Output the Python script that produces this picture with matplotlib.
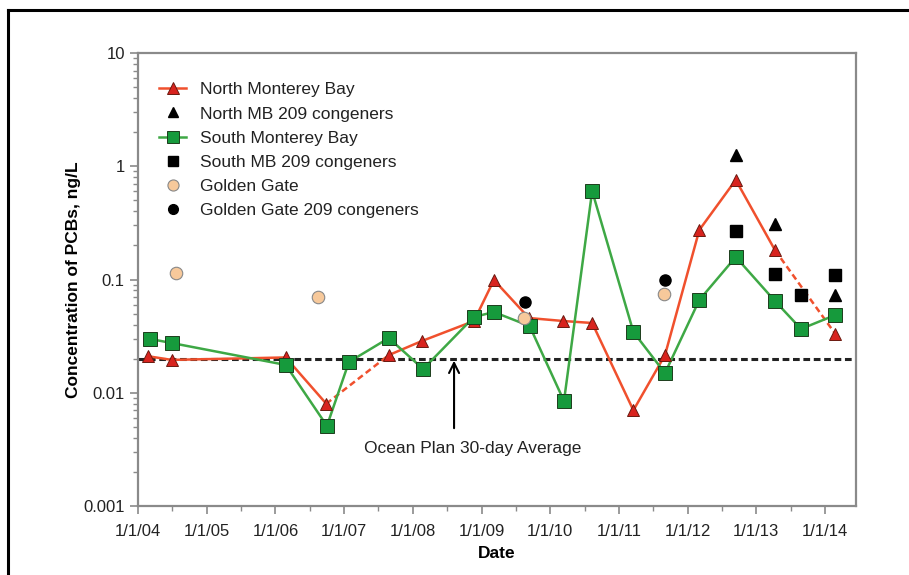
import matplotlib
matplotlib.use("Agg")
import matplotlib.pyplot as plt
from matplotlib.lines import Line2D
import matplotlib.ticker as mticker

plt.rcParams['font.family'] = ['Liberation Sans', 'DejaVu Sans']

# ---- data (decimal years, ng/L) ----
north_x = [2004.15, 2004.49, 2006.15, 2006.74, 2007.65, 2008.13, 2008.89, 2009.18,
           2009.69, 2010.19, 2010.61, 2011.21, 2011.67, 2012.17, 2012.70, 2013.27, 2014.15]
north_y = [0.021, 0.0195, 0.0205, 0.0080, 0.0215, 0.0286, 0.043, 0.099,
           0.0457, 0.043, 0.0413, 0.0070, 0.0215, 0.274, 0.757, 0.182, 0.033]
north_dashed_segments = [3, 15]  # segment i joins point i and i+1

south_x = [2004.17, 2004.49, 2006.15, 2006.75, 2007.07, 2007.65, 2008.15, 2008.89, 2009.18,
           2009.70, 2010.20, 2010.61, 2011.21, 2011.67, 2012.17, 2012.70, 2013.27, 2013.65, 2014.15]
south_y = [0.0299, 0.0275, 0.0176, 0.0051, 0.0187, 0.0304, 0.0162, 0.0467, 0.0516,
           0.0388, 0.00845, 0.604, 0.0344, 0.0149, 0.066, 0.158, 0.0646, 0.0366, 0.0486]

north209_x = [2012.70, 2013.27, 2014.15]
north209_y = [1.25, 0.309, 0.073]

south209_x = [2012.70, 2013.27, 2013.65, 2014.15]
south209_y = [0.27, 0.112, 0.073, 0.11]

gg_x = [2004.55, 2006.62, 2009.62, 2011.66]
gg_y = [0.114, 0.070, 0.0457, 0.0745]

gg209_x = [2009.63, 2011.67]
gg209_y = [0.063, 0.10]

ocean_plan = 0.02
year_ticks = list(range(2004, 2015))
year_labels = ['1/1/%02d' % (y % 100) for y in year_ticks]
y_ticks = [0.001, 0.01, 0.1, 1, 10]
y_labels = ['0.001', '0.01', '0.1', '1', '10']

# ---- styles ----
red_line = '#f0502d'
red_fill = '#d8231e'
green_line = '#3ea845'
green_fill = '#169a3c'
tan_fill = '#f7c99b'
spine_col = '#8a8a8a'

fig = plt.figure(figsize=(9.09, 5.75), dpi=100)
ax = fig.add_axes([138/909, 1-506/575, (856-138)/909, (506-53)/575])

# North line with dashed segments
for i in range(len(north_x) - 1):
    ls = (0, (2.5, 1.5)) if i in north_dashed_segments else '-'
    ax.plot(north_x[i:i+2], north_y[i:i+2], color=red_line, lw=1.8, ls=ls, zorder=2)
ax.plot(north_x, north_y, ls='none', marker='^', ms=9, mfc=red_fill, mec='#6a1a10',
        mew=0.7, zorder=4)

ax.plot(south_x, south_y, color=green_line, lw=1.8, zorder=3)
ax.plot(south_x, south_y, ls='none', marker='s', ms=9.5, mfc=green_fill, mec='#1d3d1d',
        mew=0.7, zorder=5)

ax.plot(north209_x, north209_y, ls='none', marker='^', ms=8, color='black', zorder=6)
ax.plot(south209_x, south209_y, ls='none', marker='s', ms=8, color='black', zorder=6)
ax.plot(gg_x, gg_y, ls='none', marker='o', ms=9, mfc=tan_fill, mec='#888888', mew=0.8, zorder=6)
ax.plot(gg209_x, gg209_y, ls='none', marker='o', ms=8, color='black', zorder=6)

ax.axhline(ocean_plan, color='#222222', lw=2.2, ls=(0, (2.2, 1.2)), zorder=1)

ax.annotate('', xy=(2008.6, 0.0203), xytext=(2008.6, 0.0046),
            arrowprops=dict(arrowstyle='->', color='black', lw=1.5, mutation_scale=18))
ax.text(2008.87, 0.0032, 'Ocean Plan 30-day Average', ha='center', va='center',
        fontsize=12.5, color='#222222')

ax.set_yscale('log')
ax.set_ylim(0.001, 10)
ax.set_yticks(y_ticks)
ax.set_yticklabels(y_labels)
ax.yaxis.set_minor_locator(mticker.LogLocator(base=10, subs=range(2, 10)))
ax.yaxis.set_minor_formatter(mticker.NullFormatter())
ax.set_xticks(year_ticks)
ax.set_xticklabels(year_labels)
ax.set_xticks([y + 0.5 for y in year_ticks[:-1]] + [2014.5], minor=True)
ax.set_xlim(2004, 2014.45)

ax.tick_params(axis='both', which='major', direction='out', length=6, width=1.2,
               color=spine_col, labelsize=12, labelcolor='#222222')
ax.tick_params(axis='both', which='minor', direction='out', length=3.5, width=1.0,
               color=spine_col)
ax.tick_params(axis='x', which='major', pad=7)
for s in ax.spines.values():
    s.set_color(spine_col)
    s.set_linewidth(1.6)

ax.set_xlabel('Date', fontsize=12.5, fontweight='bold', labelpad=5)
ax.set_ylabel('Concentration of PCBs, ng/L', fontsize=12.5, fontweight='bold', labelpad=2)

handles = [
    Line2D([], [], color=red_line, lw=1.8, marker='^', ms=8, mfc=red_fill, mec='#6a1a10', mew=0.7),
    Line2D([], [], ls='none', marker='^', ms=7, color='black'),
    Line2D([], [], color=green_line, lw=1.8, marker='s', ms=8, mfc=green_fill, mec='#1d3d1d', mew=0.7),
    Line2D([], [], ls='none', marker='s', ms=7, color='black'),
    Line2D([], [], ls='none', marker='o', ms=8, mfc=tan_fill, mec='#888888', mew=0.8),
    Line2D([], [], ls='none', marker='o', ms=7, color='black'),
]
labels = ['North Monterey Bay', 'North MB 209 congeners', 'South Monterey Bay',
          'South MB 209 congeners', 'Golden Gate', 'Golden Gate 209 congeners']
leg = fig.legend(handles, labels, loc='upper left', bbox_to_anchor=(150/909, 1-73.5/575),
                 frameon=False, fontsize=12.5, handlelength=1.6, handletextpad=0.8,
                 labelspacing=0.52, borderpad=0, labelcolor='#222222')

# outer frame (top and left edges)
fig.add_artist(Line2D([8/909, 8/909], [0, 1-10/575], color='black', lw=2.2,
                      transform=fig.transFigure))
fig.add_artist(Line2D([8/909, 1], [1-10/575, 1-10/575], color='black', lw=2.2,
                      transform=fig.transFigure))

fig.savefig('out.png', dpi=100)
